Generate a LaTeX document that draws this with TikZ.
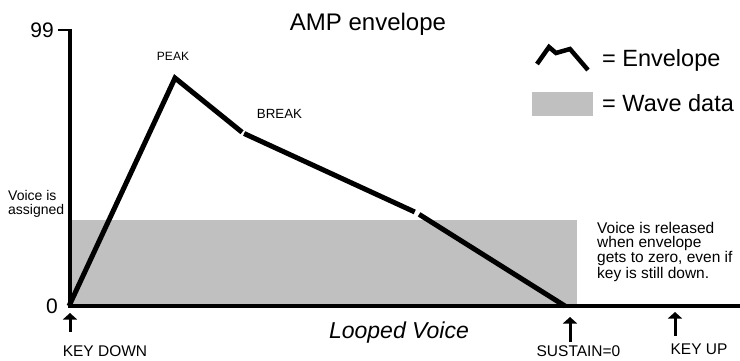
\documentclass[tikz,border=0pt]{standalone}
\usepackage{fontspec}
\setmainfont{Liberation Sans}
\usetikzlibrary{arrows.meta}
\definecolor{wavegray}{HTML}{C0C0C0}
\newcommand{\fsz}[2]{\fontsize{#1}{#2}\selectfont}

\begin{document}
\begin{tikzpicture}[x=1pt,y=-1pt,font=\fsz{16}{16},
  envline/.style={line width=5pt},
  axisline/.style={line width=3.3pt},
  keyarrow/.style={line width=3pt,-{Triangle[width=14pt,length=6.5pt]}},
  lbl/.style={inner sep=0pt}]
  \useasboundingbox (0,0) rectangle (740,360);

  % wave data and axes
  \fill[wavegray] (70,220) rectangle (577,306);
  \coordinate (orig) at (70,306);
  \coordinate (ytop) at (70,30);
  \coordinate (xend) at (740,306);
  \coordinate (tick) at (58,30);
  \draw[axisline] (ytop) -- (orig) -- (xend);
  \draw[line width=2.5pt] (tick) -- ([xshift=1.6pt]ytop);
  \node[lbl,anchor=east,font=\fsz{21}{21}] (lab99) at (54,30) {99};
  \node[lbl,anchor=east,font=\fsz{21}{21}] (lab0) at (58,306) {0};

  % envelope
  \coordinate (env0) at (69,306);
  \coordinate (peak) at (175,78);
  \coordinate (brk) at (243,133);
  \coordinate (rel) at (417,213);
  \coordinate (env1) at (565,306);
  \draw[envline,shorten >=1.2pt] (env0) -- (peak) -- (brk);
  \draw[envline,shorten <=1.2pt,shorten >=2.5pt] (brk) -- (rel);
  \draw[envline,shorten <=2.5pt] (rel) -- (env1);
  \node[lbl,font=\fsz{12}{12}] (peaklab) at (173,56.5) {PEAK};
  \node[lbl,font=\fsz{13.3}{13.3}] (brklab) at (279.5,114) {BREAK};

  \node[lbl,anchor=base,font=\fsz{24}{24}] (title) at (368,30) {AMP envelope};

  % legend
  \draw[line width=4.5pt] (537,64) -- (549,47) -- (556,53) -- (570,49) -- (588,70);
  \fill[wavegray] (532,92) rectangle (593,116);
  \node[lbl,anchor=base west,font=\fsz{23.5}{23.5}] (legenv) at (602,66) {= Envelope};
  \node[lbl,anchor=base west,font=\fsz{23.5}{23.5}] (legwave) at (602,111) {= Wave data};

  % notes
  \node[lbl,anchor=north west,align=left,font=\fsz{14}{14}] (assign) at (8,190)
    {Voice is\\assigned};
  \node[lbl,anchor=north west,align=left,font=\fsz{15.5}{14}] (release) at (597,222)
    {Voice is released\\when envelope\\gets to zero, even if\\key is still down.};

  % key events
  \foreach \n/\x/\tip/\tail in {down/70/313/332, sus/570/317/342, up/675/312/336}{
    \coordinate (tail\n) at (\x,\tail);
    \coordinate (tip\n) at (\x,\tip);
    \draw[keyarrow] (tail\n) -- (tip\n);
  }
  \node[lbl,font=\fsz{15.5}{16}] (keydown) at (105,351) {KEY DOWN};
  \node[lbl,font=\fsz{15.5}{16}] (sustain) at (578.5,351) {SUSTAIN=0};
  \node[lbl,font=\fsz{15.5}{16}] (keyup) at (699,349) {KEY UP};
  \node[lbl,anchor=base,font=\fsz{23}{23}\itshape] (looped) at (399,338) {Looped Voice};
\end{tikzpicture}
\end{document}
